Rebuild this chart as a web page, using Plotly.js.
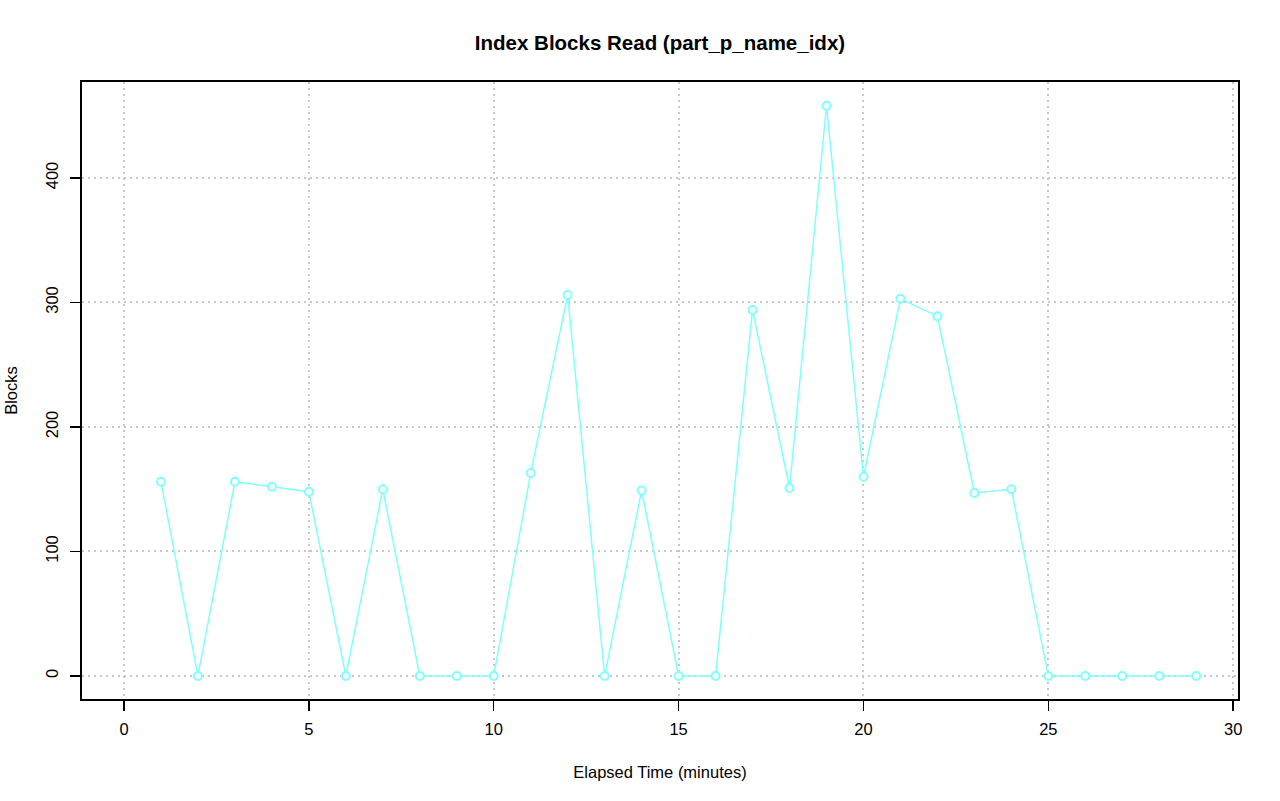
<!DOCTYPE html>
<html><head><meta charset="utf-8">
<script src="https://cdn.plot.ly/plotly-3.0.1.min.js"></script>
<style>body{margin:0;background:#fff}#chart{width:1280px;height:801px}</style>
</head><body><div id="chart"></div>
<script>
const minutes = [1,2,3,4,5,6,7,8,9,10,11,12,13,14,15,16,17,18,19,20,21,22,23,24,25,26,27,28,29];
const blocks = [156,0,156,152,148,0,150,0,0,0,163,306,0,149,0,0,294,151,458,160,303,289,147,150,0,0,0,0,0];
const xTicks = [0,5,10,15,20,25,30];
const yTicks = [0,100,200,300,400];

const font = {family: 'Liberation Sans, Arial, sans-serif', size: 16.5, color: '#000'};
Plotly.newPlot('chart', [{
  x: minutes, y: blocks, type: 'scatter', mode: 'lines+markers',
  line: {color: '#80FFFF', width: 1.5},
  marker: {symbol: 'circle', size: 8, color: '#fff', line: {color: '#80FFFF', width: 2}},
  hoverinfo: 'skip'
}], {
  width: 1280, height: 801,
  margin: {l: 82, r: 42, t: 82, b: 102},
  paper_bgcolor: '#fff', plot_bgcolor: '#fff',
  showlegend: false,
  font: font,
  title: {text: '<b>Index Blocks Read (part_p_name_idx)</b>', xref: 'paper', x: 0.5, xanchor: 'center', y: 0.946, yanchor: 'middle', font: {family: font.family, size: 20.5, color: '#000'}},
  xaxis: {
    range: [-1.136, 30.13], tickvals: xTicks, ticktext: xTicks.map(String),
    showline: true, mirror: true, linecolor: '#000', linewidth: 2,
    ticks: 'outside', ticklen: 10, tickwidth: 1.5, tickcolor: '#000',
    showgrid: true, gridcolor: '#c8c8c8', griddash: '2px,4px', gridwidth: 2,
    zeroline: false, tickfont: font, ticklabelstandoff: 4,
    title: {text: 'Elapsed Time (minutes)', font: font, standoff: 30}
  },
  yaxis: {
    range: [-18.5, 477.1], tickvals: yTicks, ticktext: yTicks.map(String), tickangle: -90,
    showline: true, mirror: true, linecolor: '#000', linewidth: 2,
    ticks: 'outside', ticklen: 10, tickwidth: 1.5, tickcolor: '#000',
    showgrid: true, gridcolor: '#c8c8c8', griddash: '2px,4px', gridwidth: 2,
    zeroline: false, tickfont: font, ticklabelstandoff: 5,
    title: {text: 'Blocks', font: font, standoff: 22}
  }
}, {staticPlot: true});
</script></body></html>
